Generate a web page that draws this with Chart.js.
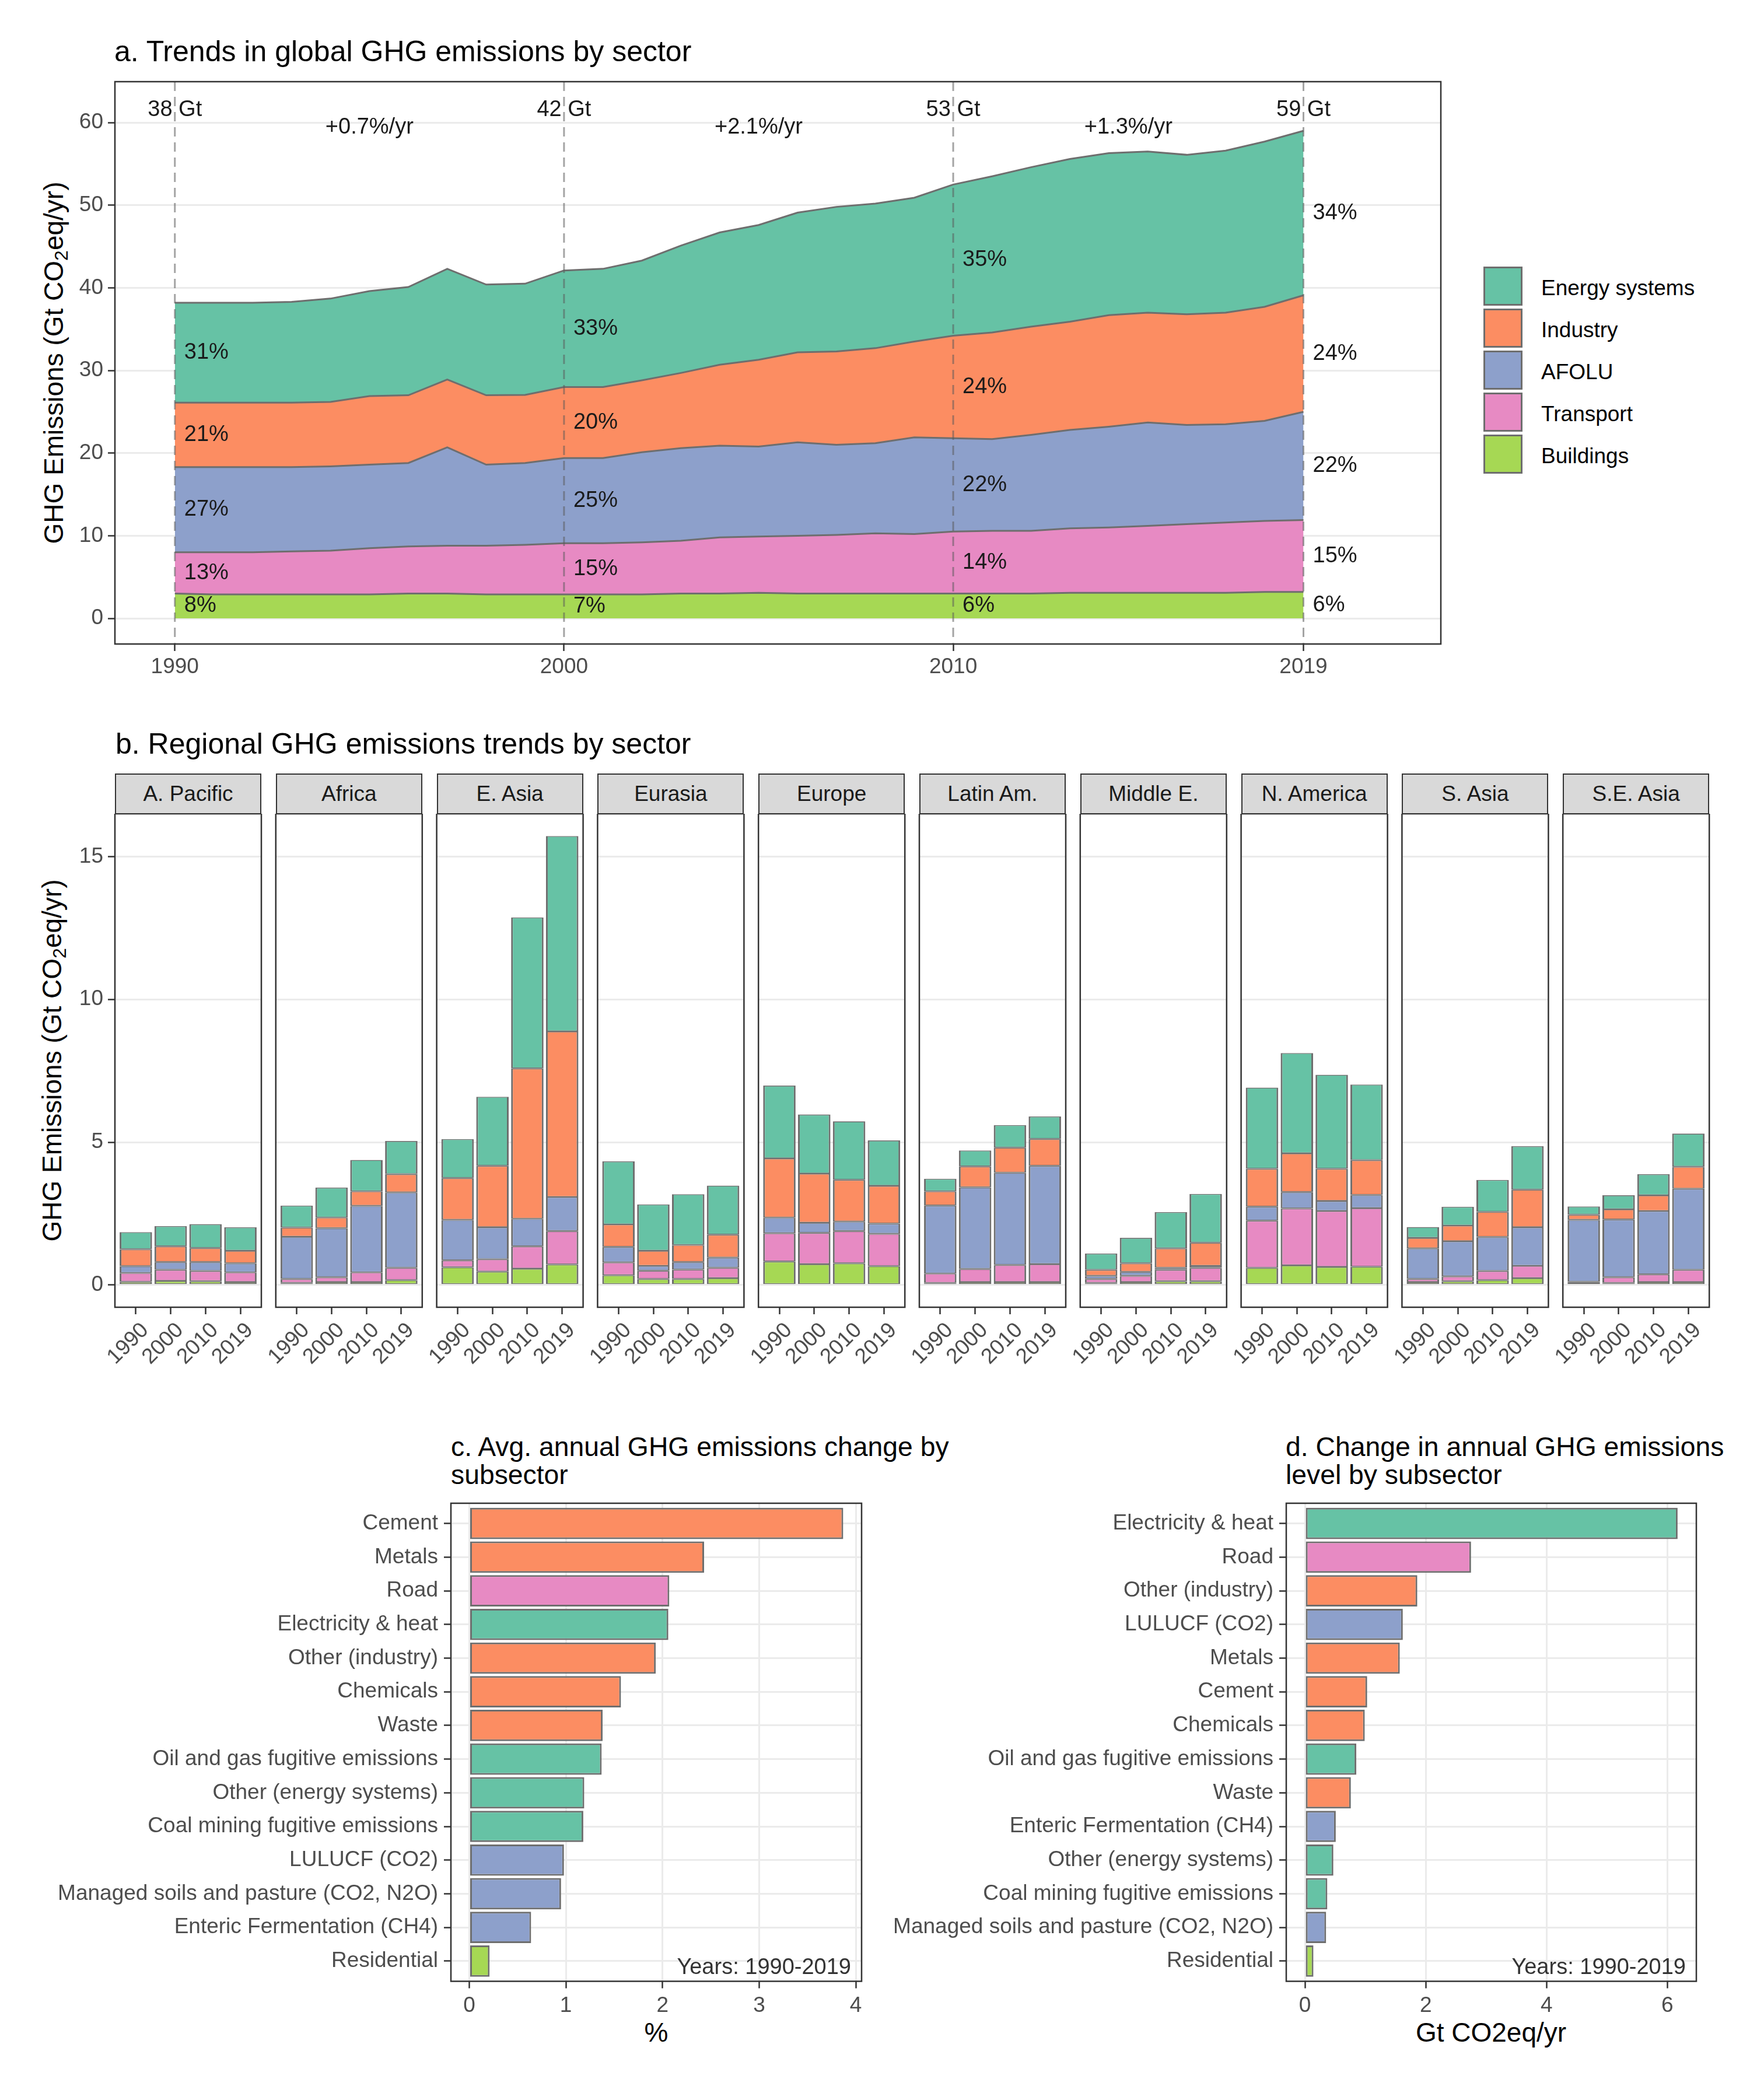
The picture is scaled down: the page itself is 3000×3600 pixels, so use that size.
<!DOCTYPE html>
<html>
<head>
<meta charset="utf-8">
<script src="https://cdn.jsdelivr.net/npm/chart.js@4.4.1/dist/chart.umd.min.js"></script>
<style>
  body { margin: 0; background: #fff; font-family: "Liberation Sans", Arial, sans-serif; }
  #page { position: relative; width: 3000px; height: 3600px; overflow: hidden; background: #fff; }
  canvas { position: absolute; }
  .t { position: absolute; white-space: nowrap; color: #000; }
  .title { font-size: 50px; line-height: 50px; }
  .title2 { font-size: 46.3px; line-height: 48px; }
  .ytitle { font-size: 46px; line-height: 46px; width: 900px; text-align: center; transform: rotate(-90deg); }
  .ytitle sub { font-size: 32px; vertical-align: -8px; line-height: 0; }
  .xtitle { font-size: 46px; line-height: 46px; width: 600px; text-align: center; }
  .strip { position: absolute; box-sizing: border-box; height: 70px; width: 251px; background: #D9D9D9;
           border: 2.5px solid #333; font-size: 37px; color: #1A1A1A; display: flex; align-items: center; justify-content: center; }
  .key { position: absolute; box-sizing: border-box; width: 67px; height: 67px; border: 3px solid #6E6E6E; }
  .ktxt { font-size: 37px; line-height: 37px; }
</style>
</head>
<body>
<div id="page">
  <div class="t title" style="left:196px; top:63px;">a. Trends in global GHG emissions by sector</div>
  <div class="t title" style="left:198px; top:1250px;">b. Regional GHG emissions trends by sector</div>
  <div class="t title2" style="left:773px; top:2456px;">c. Avg. annual GHG emissions change by<br>subsector</div>
  <div class="t title2" style="left:2204px; top:2456px;">d. Change in annual GHG emissions<br>level by subsector</div>
  <div class="t ytitle" style="left:-358px; top:599px;">GHG Emissions (Gt CO<sub>2</sub>eq/yr)</div>
  <div class="t ytitle" style="left:-361px; top:1795px;">GHG Emissions (Gt CO<sub>2</sub>eq/yr)</div>
  <div class="t xtitle" style="left:825px; top:3461px;">%</div>
  <div class="t xtitle" style="left:2256px; top:3461px;">Gt CO2eq/yr</div>
</div>
<script>
const FONT = '"Liberation Sans", Arial, sans-serif';
Chart.defaults.font.family = FONT;

// sectors and colours (Set2)
const sectors = ['Energy systems', 'Industry', 'AFOLU', 'Transport', 'Buildings'];
const sectorColors = {
  'Energy systems': '#66C2A5',
  'Industry': '#FC8D62',
  'AFOLU': '#8DA0CB',
  'Transport': '#E78AC3',
  'Buildings': '#A6D854'
};
const outline = '#6E6E6E';

// ---- panel a: global emissions by sector (Gt CO2eq/yr)
const years = [1990, 1991, 1992, 1993, 1994, 1995, 1996, 1997, 1998, 1999,
               2000, 2001, 2002, 2003, 2004, 2005, 2006, 2007, 2008, 2009,
               2010, 2011, 2012, 2013, 2014, 2015, 2016, 2017, 2018, 2019];
const energy = [12.1, 12.1, 12.1, 12.2, 12.5, 12.7, 13.1, 13.4, 13.4, 13.45,
                14.1, 14.3, 14.5, 15.4, 16.0, 16.3, 16.9, 17.5, 17.5, 17.4,
                18.3, 18.9, 19.3, 19.7, 19.6, 19.5, 19.3, 19.6, 20.0, 19.9];
const industry = [7.8, 7.8, 7.8, 7.8, 7.8, 8.3, 8.2, 8.2, 8.4, 8.25,
                  8.6, 8.6, 8.7, 9.1, 9.8, 10.5, 10.9, 11.3, 11.5, 11.6,
                  12.4, 12.9, 13.1, 13.1, 13.5, 13.3, 13.4, 13.5, 13.8, 14.1];
const afolu = [10.3, 10.3, 10.3, 10.2, 10.2, 10.1, 10.1, 11.9, 9.8, 9.9,
               10.3, 10.3, 10.9, 11.2, 11.1, 10.9, 11.3, 10.9, 10.9, 11.7,
               11.3, 11.1, 11.6, 11.9, 12.2, 12.5, 12.0, 11.9, 12.1, 13.1];
const transport = [5.0, 5.1, 5.1, 5.2, 5.3, 5.6, 5.7, 5.8, 5.9, 6.0,
                   6.2, 6.2, 6.3, 6.4, 6.8, 6.8, 7.0, 7.1, 7.3, 7.2,
                   7.5, 7.6, 7.6, 7.8, 7.9, 8.1, 8.3, 8.5, 8.6, 8.7];
const buildings = [3.0, 2.9, 2.9, 2.9, 2.9, 2.9, 3.0, 3.0, 2.9, 2.9,
                   2.9, 2.9, 2.9, 3.0, 3.0, 3.1, 3.0, 3.0, 3.0, 3.0,
                   3.0, 3.0, 3.0, 3.1, 3.1, 3.1, 3.1, 3.1, 3.2, 3.2];
const milestoneYears = [1990, 2000, 2010, 2019];
const totalLabels = ['38 Gt', '42 Gt', '53 Gt', '59 Gt'];
const growthLabels = ['+0.7%/yr', '+2.1%/yr', '+1.3%/yr'];
const shareEnergy = ['31%', '33%', '35%', '34%'];
const shareIndustry = ['21%', '20%', '24%', '24%'];
const shareAfolu = ['27%', '25%', '22%', '22%'];
const shareTransport = ['13%', '15%', '14%', '15%'];
const shareBuildings = ['8%', '7%', '6%', '6%'];
const yTicksA = [0, 10, 20, 30, 40, 50, 60];

// ---- panel b: regional emissions, values per region for 1990, 2000, 2010, 2019
const regions = ['A. Pacific', 'Africa', 'E. Asia', 'Eurasia', 'Europe',
                 'Latin Am.', 'Middle E.', 'N. America', 'S. Asia', 'S.E. Asia'];
const barYears = ['1990', '2000', '2010', '2019'];
const regBuildings = [[.11, .14, .13, .10], [.07, .10, .10, .17], [.62, .47, .57, .72], [.34, .21, .21, .24], [.82, .73, .76, .66],
                      [.07, .10, .10, .10], [.07, .10, .13, .13], [.60, .69, .63, .64], [.10, .13, .17, .24], [.06, .07, .10, .10]];
const regTransport = [[.31, .39, .36, .34], [.14, .17, .34, .43], [.24, .43, .78, 1.17], [.45, .29, .33, .36], [.99, 1.09, 1.13, 1.13],
                      [.33, .46, .60, .63], [.14, .22, .40, .47], [1.65, 1.99, 1.96, 2.05], [.11, .17, .32, .43], [.05, .20, .27, .43]];
const regAfolu = [[.24, .27, .31, .32], [1.48, 1.72, 2.33, 2.64], [1.42, 1.12, .97, 1.19], [.54, .17, .26, .36], [.55, .36, .33, .36],
                  [2.38, 2.86, 3.23, 3.44], [.11, .14, .07, .07], [.49, .57, .35, .46], [1.07, 1.23, 1.19, 1.35], [2.17, 2.02, 2.22, 2.84]];
const regIndustry = [[.59, .55, .49, .44], [.32, .37, .51, .64], [1.46, 2.15, 5.26, 5.80], [.79, .53, .60, .80], [2.07, 1.72, 1.46, 1.32],
                     [.50, .73, .88, .94], [.21, .30, .68, .81], [1.33, 1.36, 1.13, 1.22], [.37, .55, .88, 1.32], [.18, .36, .55, .77]];
const regEnergy = [[.60, .71, .84, .82], [.77, 1.05, 1.10, 1.16], [1.37, 2.42, 5.29, 6.84], [2.21, 1.62, 1.78, 1.72], [2.55, 2.07, 2.05, 1.59],
                   [.44, .56, .79, .79], [.57, .89, 1.27, 1.71], [2.84, 3.51, 3.29, 2.65], [.38, .66, 1.12, 1.52], [.29, .49, .74, 1.16]];
const yTicksB = [0, 5, 10, 15];

// ---- panel c: avg. annual change by subsector (%)
const catC = ['Cement', 'Metals', 'Road', 'Electricity & heat', 'Other (industry)', 'Chemicals', 'Waste',
              'Oil and gas fugitive emissions', 'Other (energy systems)', 'Coal mining fugitive emissions',
              'LULUCF (CO2)', 'Managed soils and pasture (CO2, N2O)', 'Enteric Fermentation (CH4)', 'Residential'];
const valC = [3.87, 2.43, 2.07, 2.06, 1.93, 1.57, 1.38, 1.37, 1.19, 1.18, 0.98, 0.95, 0.64, 0.21];
const sectorC = ['Industry', 'Industry', 'Transport', 'Energy systems', 'Industry', 'Industry', 'Industry',
                 'Energy systems', 'Energy systems', 'Energy systems', 'AFOLU', 'AFOLU', 'AFOLU', 'Buildings'];
const xTicksC = [0, 1, 2, 3, 4];

// ---- panel d: change in annual level by subsector (Gt CO2eq/yr)
const catD = ['Electricity & heat', 'Road', 'Other (industry)', 'LULUCF (CO2)', 'Metals', 'Cement', 'Chemicals',
              'Oil and gas fugitive emissions', 'Waste', 'Enteric Fermentation (CH4)', 'Other (energy systems)',
              'Coal mining fugitive emissions', 'Managed soils and pasture (CO2, N2O)', 'Residential'];
const valD = [6.17, 2.75, 1.86, 1.62, 1.57, 1.03, 0.99, 0.85, 0.76, 0.51, 0.47, 0.37, 0.35, 0.14];
const sectorD = ['Energy systems', 'Transport', 'Industry', 'AFOLU', 'Industry', 'Industry', 'Industry',
                 'Energy systems', 'Industry', 'AFOLU', 'Energy systems', 'Energy systems', 'AFOLU', 'Buildings'];
const xTicksD = [0, 2, 4, 6];

const page = document.getElementById('page');

function makeCanvas(left, top, w, h) {
  const c = document.createElement('canvas');
  c.width = w; c.height = h;
  c.style.left = left + 'px'; c.style.top = top + 'px';
  c.style.width = w + 'px'; c.style.height = h + 'px';
  page.appendChild(c);
  return c;
}

function addText(cls, html, left, top) {
  const d = document.createElement('div');
  d.className = cls;
  d.innerHTML = html;
  d.style.left = left + 'px'; d.style.top = top + 'px';
  page.appendChild(d);
  return d;
}

// panel border like ggplot theme_bw
const panelBox = {
  id: 'panelBox',
  afterDraw(chart) {
    const a = chart.chartArea, ctx = chart.ctx;
    ctx.save();
    ctx.strokeStyle = '#333';
    ctx.lineWidth = 2.5;
    ctx.strokeRect(a.left, a.top, a.right - a.left, a.bottom - a.top);
    ctx.restore();
  }
};

const tickFont = { family: FONT, size: 37 };
const setTicks = list => s => { s.ticks = list.map(v => ({ value: v })); };

// ---------------- panel a ----------------
const stackA = [buildings, transport, afolu, industry, energy];
const stackNames = ['Buildings', 'Transport', 'AFOLU', 'Industry', 'Energy systems'];
const stackShares = [shareBuildings, shareTransport, shareAfolu, shareIndustry, shareEnergy];

const annotA = {
  id: 'annotA',
  afterDatasetsDraw(chart) {
    const { ctx, chartArea: a } = chart;
    const x = chart.scales.x, y = chart.scales.y;
    ctx.save();
    ctx.setLineDash([16, 10]);
    ctx.lineWidth = 3;
    ctx.strokeStyle = 'rgba(90,90,90,0.55)';
    milestoneYears.forEach(yr => {
      const px = x.getPixelForValue(yr);
      ctx.beginPath(); ctx.moveTo(px, a.top); ctx.lineTo(px, a.bottom); ctx.stroke();
    });
    ctx.setLineDash([]);
    ctx.fillStyle = '#1A1A1A';
    ctx.font = '38px ' + FONT;
    ctx.textAlign = 'center';
    ctx.textBaseline = 'alphabetic';
    milestoneYears.forEach((yr, i) => {
      ctx.fillText(totalLabels[i], x.getPixelForValue(yr), y.getPixelForValue(60.76));
    });
    growthLabels.forEach((t, i) => {
      const mid = (milestoneYears[i] + milestoneYears[i + 1]) / 2;
      ctx.fillText(t, x.getPixelForValue(mid), y.getPixelForValue(58.7));
    });
    ctx.textAlign = 'left';
    ctx.textBaseline = 'middle';
    milestoneYears.forEach((yr, m) => {
      const k = years.indexOf(yr);
      let base = 0;
      stackA.forEach((arr, s) => {
        const mid = base + arr[k] / 2;
        base += arr[k];
        ctx.fillText(stackShares[s][m], x.getPixelForValue(yr) + 16, y.getPixelForValue(mid));
      });
    });
    ctx.restore();
  }
};

new Chart(makeCanvas(0, 0, 2500, 1200), {
  type: 'line',
  data: {
    datasets: stackA.map((arr, s) => ({
      label: stackNames[s],
      data: years.map((yr, i) => ({ x: yr, y: arr[i] })),
      backgroundColor: sectorColors[stackNames[s]],
      borderColor: outline,
      borderWidth: 3,
      pointRadius: 0,
      tension: 0,
      fill: s === 0 ? 'origin' : '-1'
    }))
  },
  options: {
    responsive: false, animation: false, devicePixelRatio: 1,
    layout: { padding: { left: 0, top: 140, right: 30, bottom: 0 } },
    plugins: { legend: { display: false }, tooltip: { enabled: false }, filler: { propagate: false } },
    scales: {
      x: {
        type: 'linear', min: 1988.46, max: 2022.53,
        afterBuildTicks: setTicks(milestoneYears),
        ticks: { font: tickFont, color: '#4D4D4D', padding: 6, callback: v => String(v), maxRotation: 0 },
        grid: { drawOnChartArea: false, tickLength: 12, tickColor: '#333', tickWidth: 2.5 },
        border: { display: false },
        afterFit: s => { s.height = 96; s.paddingLeft = 0; s.paddingRight = 0; }
      },
      y: {
        stacked: true, min: -3.1, max: 64.95,
        afterBuildTicks: setTicks(yTicksA),
        ticks: { font: tickFont, color: '#4D4D4D', padding: 8 },
        grid: { color: '#EBEBEB', lineWidth: 3, tickLength: 12, tickColor: '#333', tickWidth: 2.5 },
        border: { display: false },
        afterFit: s => { s.width = 197; s.paddingTop = 0; s.paddingBottom = 0; }
      }
    }
  },
  plugins: [annotA, panelBox]
});

// legend for panel a
sectors.forEach((name, i) => {
  const k = document.createElement('div');
  k.className = 'key';
  k.style.left = '2543px';
  k.style.top = (457 + i * 72) + 'px';
  k.style.background = sectorColors[name];
  page.appendChild(k);
  addText('t ktxt', name, 2642, 475 + i * 72);
});

// ---------------- panel b ----------------
const regStack = [regBuildings, regTransport, regAfolu, regIndustry, regEnergy];
const panelTopB = 1395, panelBottomB = 2241, panelW = 251, panelStep = 275.8;

regions.forEach((reg, r) => {
  const pl = 197 + r * panelStep;
  const first = r === 0;
  const cLeft = first ? 0 : Math.round(pl) - 60;
  const cW = Math.round(pl + panelW + 50) - cLeft;
  const cH = 1005;
  const padLeft = first ? 0 : pl - cLeft;
  const padRight = cLeft + cW - (pl + panelW);

  const strip = document.createElement('div');
  strip.className = 'strip';
  strip.style.left = pl + 'px';
  strip.style.top = '1326px';
  strip.textContent = reg;
  page.appendChild(strip);

  new Chart(makeCanvas(cLeft, panelTopB, cW, cH), {
    type: 'bar',
    data: {
      datasets: regStack.map((arr, s) => ({
        label: stackNames[s],
        data: arr[r].map((v, i) => ({ x: i + 1, y: v })),
        backgroundColor: sectorColors[stackNames[s]],
        borderColor: outline,
        borderWidth: { top: 1.6, bottom: 1.6, left: 3, right: 3 },
        borderSkipped: false,
        barPercentage: 0.93,
        categoryPercentage: 1.0
      }))
    },
    options: {
      responsive: false, animation: false, devicePixelRatio: 1,
      layout: { padding: { left: padLeft, top: 0, right: padRight, bottom: 0 } },
      plugins: { legend: { display: false }, tooltip: { enabled: false } },
      scales: {
        x: {
          type: 'linear', min: 0.4, max: 4.6, stacked: true, offset: false,
          afterBuildTicks: setTicks([1, 2, 3, 4]),
          ticks: { font: { family: FONT, size: 37 }, color: '#4D4D4D', padding: 6, labelOffset: 16,
                   minRotation: 45, maxRotation: 45, callback: v => barYears[v - 1] },
          grid: { offset: false, drawOnChartArea: false, tickLength: 12, tickColor: '#333', tickWidth: 2.5 },
          border: { display: false },
          afterFit: s => { s.height = cH - (panelBottomB - panelTopB); s.paddingLeft = 0; s.paddingRight = 0; }
        },
        y: {
          stacked: true, min: -0.78, max: 16.5,
          afterBuildTicks: setTicks(yTicksB),
          ticks: { display: first, font: tickFont, color: '#4D4D4D', padding: 8 },
          grid: { color: '#EBEBEB', lineWidth: 3, drawTicks: first, tickLength: 12, tickColor: '#333', tickWidth: 2.5 },
          border: { display: false },
          afterFit: s => { s.width = first ? 197 : 0; s.paddingTop = 0; s.paddingBottom = 0; }
        }
      }
    },
    plugins: [panelBox]
  });
});

// ---------------- panels c and d ----------------
const yearsNote = {
  id: 'yearsNote',
  afterDatasetsDraw(chart) {
    const { ctx, chartArea: a } = chart;
    ctx.save();
    ctx.fillStyle = '#333';
    ctx.font = '38px ' + FONT;
    ctx.textAlign = 'right';
    ctx.textBaseline = 'middle';
    ctx.fillText('Years: 1990-2019', a.right - 18, a.bottom - 23);
    ctx.restore();
  }
};

function hbar(canvas, cats, vals, secs, xmin, xmax, xticks, yWidth, padRight, xHeight) {
  return new Chart(canvas, {
    type: 'bar',
    data: {
      datasets: [{
        data: vals.map((v, i) => ({ x: v, y: i + 1 })),
        backgroundColor: secs.map(s => sectorColors[s]),
        borderColor: outline,
        borderWidth: 3,
        borderSkipped: false,
        barPercentage: 0.93,
        categoryPercentage: 1.0
      }]
    },
    options: {
      indexAxis: 'y',
      responsive: false, animation: false, devicePixelRatio: 1,
      layout: { padding: { left: 0, top: 17, right: padRight, bottom: 0 } },
      plugins: { legend: { display: false }, tooltip: { enabled: false } },
      scales: {
        x: {
          type: 'linear', min: xmin, max: xmax,
          afterBuildTicks: setTicks(xticks),
          ticks: { font: tickFont, color: '#4D4D4D', padding: 8, maxRotation: 0 },
          grid: { color: '#EBEBEB', lineWidth: 3, tickLength: 12, tickColor: '#333', tickWidth: 2.5 },
          border: { display: false },
          afterFit: s => { s.height = xHeight; s.paddingLeft = 0; s.paddingRight = 0; }
        },
        y: {
          type: 'linear', min: 0.4, max: cats.length + 0.6, reverse: true, offset: false,
          afterBuildTicks: setTicks(cats.map((c, i) => i + 1)),
          ticks: { font: tickFont, color: '#4D4D4D', padding: 10, callback: v => cats[v - 1] },
          grid: { offset: false, color: '#EBEBEB', lineWidth: 3, tickLength: 12, tickColor: '#333', tickWidth: 2.5 },
          border: { display: false },
          afterFit: s => { s.width = yWidth; s.paddingTop = 0; s.paddingBottom = 0; }
        }
      }
    },
    plugins: [yearsNote, panelBox]
  });
}

hbar(makeCanvas(0, 2560, 1510, 920), catC, valC, sectorC, -0.19, 4.06, xTicksC, 773, 33, 83.5);
hbar(makeCanvas(1520, 2560, 1410, 920), catD, valD, sectorD, -0.31, 6.48, xTicksD, 685, 22, 83.5);
</script>
</body>
</html>
